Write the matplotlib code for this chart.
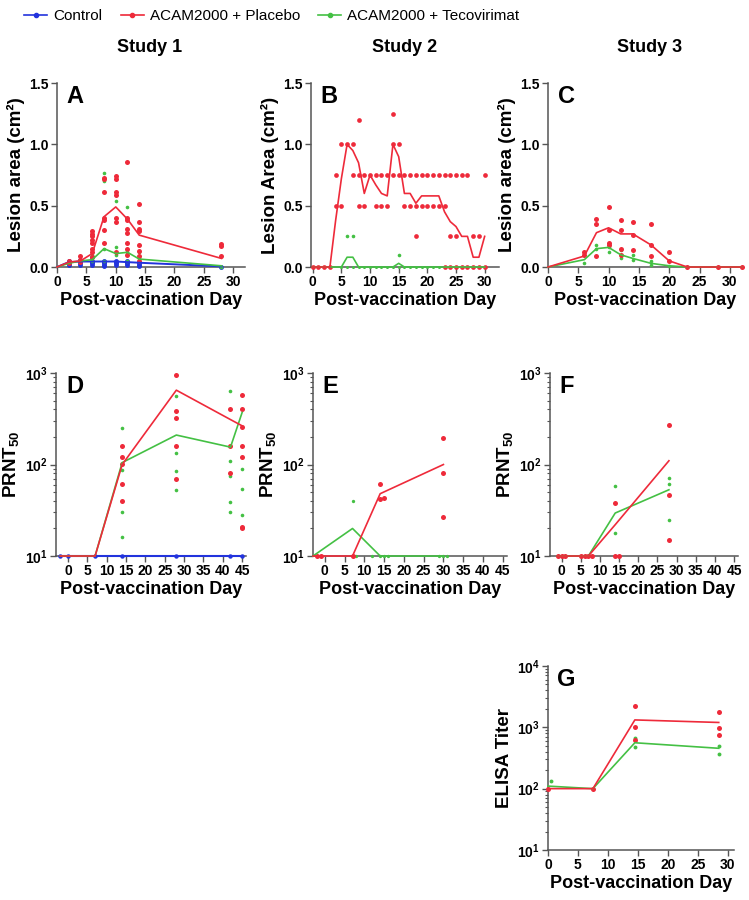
import matplotlib.pyplot as plt
from matplotlib.lines import Line2D
from matplotlib.ticker import LogLocator, NullFormatter, MultipleLocator

plt.rcParams['font.family'] = ['Liberation Sans', 'DejaVu Sans']
plt.rcParams['mathtext.fontset'] = 'custom'
plt.rcParams['mathtext.rm'] = 'Liberation Sans:bold'
plt.rcParams['mathtext.it'] = 'Liberation Sans:bold'
plt.rcParams['mathtext.bf'] = 'Liberation Sans:bold'

RED, GREEN, BLUE = '#EE2A3A', '#44C044', '#2233DD'

# ---- Study 1 lesion area (A)
a_days = [0, 2, 4, 6, 8, 10, 12, 14, 28]
a_placebo_mean = [0, 0.04, 0.05, 0.11, 0.41, 0.49, 0.39, 0.26, 0.07]
a_tecov_mean = [0, 0.03, 0.05, 0.06, 0.15, 0.11, 0.12, 0.065, 0.01]
a_control_mean = [0, 0.04, 0.045, 0.045, 0.045, 0.045, 0.04, 0.035, 0.005]
a_placebo_pts = {2: [0.05, 0.03], 4: [0.09, 0.06, 0.04],
                 6: [0.29, 0.27, 0.25, 0.22, 0.2, 0.15, 0.12, 0.08],
                 8: [0.73, 0.72, 0.61, 0.4, 0.38, 0.3, 0.2],
                 10: [0.74, 0.72, 0.61, 0.59, 0.4, 0.37, 0.12],
                 12: [0.86, 0.4, 0.38, 0.31, 0.28, 0.2, 0.15, 0.1],
                 14: [0.51, 0.37, 0.31, 0.29, 0.18, 0.13, 0.09, 0.05],
                 28: [0.19, 0.17, 0.09]}
a_tecov_pts = {4: [0.05], 6: [0.1, 0.05], 8: [0.77, 0.7, 0.15, 0.05],
               10: [0.54, 0.16, 0.1], 12: [0.49, 0.12, 0.05],
               14: [0.18, 0.12, 0.07], 28: [0.0]}
a_control_pts = {2: [0.05, 0.03, 0.02], 4: [0.06, 0.04, 0.03, 0.02],
                 6: [0.08, 0.05, 0.04, 0.03, 0.02], 8: [0.05, 0.04, 0.03, 0.02, 0.01],
                 10: [0.05, 0.04, 0.03, 0.02], 12: [0.05, 0.04, 0.03, 0.02],
                 14: [0.04, 0.03, 0.02, 0.01], 28: [0.0]}

# ---- Study 2 lesion area (B)
b_days = list(range(0, 31))
b_placebo_mean = [0, 0, 0, 0, 0.38, 0.72, 1.0, 0.95, 0.85, 0.6, 0.75, 0.67, 0.6,
                  0.58, 1.0, 0.9, 0.6, 0.6, 0.52, 0.58, 0.58, 0.58, 0.58, 0.45,
                  0.37, 0.33, 0.25, 0.25, 0.08, 0.08, 0.25]
b_tecov_mean = [0, 0, 0, 0, 0, 0, 0.08, 0.08, 0, 0, 0, 0, 0, 0, 0, 0.03, 0,
                0, 0, 0, 0, 0, 0, 0, 0, 0, 0, 0, 0, 0, 0]
b_placebo_pts = {0: [0], 1: [0], 2: [0], 3: [0], 4: [0.75, 0.5], 5: [1.0, 0.5],
                 6: [1.0], 7: [1.0, 0.75], 8: [1.2, 0.75, 0.5], 9: [0.75, 0.5],
                 10: [0.75], 11: [0.75, 0.5], 12: [0.75, 0.5], 13: [0.75, 0.5],
                 14: [1.25, 1.0, 0.75], 15: [1.0, 0.75], 16: [0.75, 0.5],
                 17: [0.75, 0.5], 18: [0.75, 0.5, 0.25], 19: [0.75, 0.5],
                 20: [0.75, 0.5], 21: [0.75, 0.5], 22: [0.75, 0.5],
                 23: [0.75, 0.5, 0], 24: [0.75, 0.25, 0], 25: [0.75, 0.25, 0],
                 26: [0.75, 0], 27: [0.75, 0], 28: [0.25, 0], 29: [0.25, 0],
                 30: [0.75, 0]}
b_tecov_pts = {d: [0] for d in range(5, 31)}
b_tecov_extra = {6: [0.25], 7: [0.25], 15: [0.1]}

# ---- Study 3 lesion area (C)
c_days = [0, 6, 8, 10, 12, 14, 17, 20, 23, 28, 32]
c_placebo_mean = [0, 0.09, 0.28, 0.32, 0.27, 0.27, 0.18, 0.05, 0, 0, 0]
c_tecov_mean = [0, 0.06, 0.15, 0.16, 0.1, 0.07, 0.03, 0.01, 0, 0, 0]
c_placebo_pts = {6: [0.12, 0.1], 8: [0.39, 0.35, 0.09], 10: [0.49, 0.3, 0.2, 0.18],
                 12: [0.38, 0.3, 0.15, 0.1], 14: [0.37, 0.26, 0.14],
                 17: [0.35, 0.18, 0.09], 20: [0.12, 0.05], 23: [0], 28: [0], 32: [0]}
c_tecov_pts = {6: [0.03], 8: [0.18, 0.15], 10: [0.16, 0.12], 12: [0.14, 0.07],
               14: [0.1, 0.06], 17: [0.05, 0.02], 20: [0.01]}

# ---- Study 1 PRNT50 (D)
d_days = [-2, 0, 7, 14, 28, 42, 45]
d_placebo_mean = [10, 10, 10, 100, 650, 310, 265]
d_tecov_mean = [10, 10, 10, 105, 210, 155, 370]
d_control_mean = [10, 10, 10, 10, 10, 10, 10]
d_placebo_pts = {14: [160, 120, 101, 62, 40], 28: [950, 380, 322, 160, 69],
                 42: [400, 160, 81], 45: [575, 400, 255, 160, 120, 21, 20]}
d_tecov_pts = {14: [250, 88, 30, 16], 28: [560, 135, 84, 53],
               42: [635, 110, 74, 39, 30], 45: [90, 54, 28]}
d_control_pts = {-2: [10], 0: [10], 7: [10], 14: [10], 28: [10], 42: [10], 45: [10]}

# ---- Study 2 PRNT50 (E)
e_days = [-3, 7, 14, 30]
e_placebo_mean = [10, 10, 48, 100]
e_tecov_mean = [10, 20, 10, 10]
e_placebo_pts = {-2: [10], -1: [10], 7: [10], 14: [62, 42], 15: [43],
                 30: [194, 81, 27]}
e_tecov_pts = {7: [40], 8: [10], 12: [10], 14: [10], 15: [10], 16: [10],
               29: [10], 30: [10], 31: [10]}

# ---- Study 3 PRNT50 (F)
f_days = [-1, 7, 14, 28]
f_placebo_mean = [10, 10, 22, 110]
f_tecov_mean = [10, 10, 29.5, 53]
f_placebo_pts = {-1: [10], 0: [10], 1: [10], 5: [10], 6: [10], 7: [10], 8: [10],
                 14: [38, 10], 15: [10], 28: [270, 46, 15]}
f_tecov_pts = {14: [58, 18], 28: [71, 62, 24.5], 8: [10]}

# ---- Study 3 ELISA (G)
g_days = [0, 7.5, 14.5, 28.5]
g_placebo_mean = [100, 100, 1320, 1200]
g_tecov_mean = [110, 100, 560, 455]
g_placebo_pts = {0: [100], 7.5: [100], 14.5: [2260, 1020, 610], 28.5: [1800, 990, 740]}
g_tecov_pts = {0.5: [135], 14.5: [660, 470], 28.5: [490, 364]}


def flat(pts):
    xs = [d for d, vals in pts.items() for v in vals]
    ys = [v for d, vals in pts.items() for v in vals]
    return xs, ys


def draw(ax, days, mean, pts, color, ms, lw=1.2):
    xs, ys = flat(pts)
    ax.plot(xs, ys, 'o', color=color, ms=ms, mec='none', zorder=3, clip_on=False)
    ax.plot(days, mean, '-', color=color, lw=lw, zorder=4, clip_on=False)


def style(ax, letter, ylabel, log=False):
    for s in ['top', 'right']:
        ax.spines[s].set_visible(False)
    for s in ['left', 'bottom']:
        ax.spines[s].set_color('#555555')
        ax.spines[s].set_linewidth(1.1)
    ax.tick_params(direction='out', length=4, width=1, color='#555555',
                   labelsize=10, pad=2)
    ax.tick_params(which='minor', length=2.5, width=0.8, color='#555555')
    for lab in ax.get_xticklabels() + ax.get_yticklabels():
        lab.set_fontweight('bold')
    ax.set_xlabel('Post-vaccination Day', fontsize=13, fontweight='bold', labelpad=2)
    ax.set_ylabel(ylabel, fontsize=13.5, fontweight='bold', labelpad=3)
    ax.text(0.05, 0.99, letter, transform=ax.transAxes, ha='left', va='top',
            fontsize=17, fontweight='bold')


fig = plt.figure(figsize=(7.49, 9), dpi=100)

lesion = 'Lesion area (cm²)'
prnt = r'PRNT$_{50}$'

# Row 1
axA = fig.add_axes([0.0761, 0.7033, 0.251, 0.2044])
draw(axA, a_days, a_control_mean, a_control_pts, BLUE, 3.5, 1.4)
draw(axA, a_days, a_tecov_mean, a_tecov_pts, GREEN, 2.6)
draw(axA, a_days, a_placebo_mean, a_placebo_pts, RED, 3.6)
axA.set_xlim(0, 32)

axB = fig.add_axes([0.4152, 0.7033, 0.251, 0.2044])
draw(axB, b_days, b_tecov_mean, b_tecov_pts, GREEN, 2.2)
xs, ys = flat(b_tecov_extra)
axB.plot(xs, ys, 'o', color=GREEN, ms=2.6, mec='none', zorder=3)
draw(axB, b_days, b_placebo_mean, b_placebo_pts, RED, 3.4)
axB.set_xlim(-0.3, 32.5)

axC = fig.add_axes([0.7316, 0.7033, 0.259, 0.2044])
axC.plot(c_days, [0] * len(c_days), '-', color='#9999BB', lw=1, zorder=2)
draw(axC, c_days, c_tecov_mean, c_tecov_pts, GREEN, 2.6)
draw(axC, c_days, c_placebo_mean, c_placebo_pts, RED, 3.6)
axC.set_xlim(0, 32)

for ax, letter, lab in [(axA, 'A', lesion), (axB, 'B', 'Lesion Area (cm²)'),
                        (axC, 'C', lesion)]:
    ax.set_ylim(0, 1.5)
    ax.yaxis.set_major_locator(MultipleLocator(0.5))
    ax.yaxis.set_major_formatter(plt.FormatStrFormatter('%.1f'))
    ax.xaxis.set_major_locator(MultipleLocator(5))
    style(ax, letter, lab)

# Row 2
axD = fig.add_axes([0.0753, 0.3822, 0.2531, 0.2033])
draw(axD, d_days, d_control_mean, d_control_pts, BLUE, 3.2, 1.5)
draw(axD, d_days, d_tecov_mean, d_tecov_pts, GREEN, 2.6)
draw(axD, d_days, d_placebo_mean, d_placebo_pts, RED, 3.6)

axE = fig.add_axes([0.4179, 0.3822, 0.2585, 0.2033])
draw(axE, e_days, e_tecov_mean, e_tecov_pts, GREEN, 2.4)
draw(axE, e_days, e_placebo_mean, e_placebo_pts, RED, 3.6)

axF = fig.add_axes([0.7343, 0.3822, 0.251, 0.2033])
draw(axF, f_days, f_tecov_mean, f_tecov_pts, GREEN, 2.6)
draw(axF, f_days, f_placebo_mean, f_placebo_pts, RED, 3.6)

for ax, letter in [(axD, 'D'), (axE, 'E'), (axF, 'F')]:
    ax.set_yscale('log')
    ax.set_ylim(10, 1000)
    ax.set_xlim(-3, 46)
    ax.xaxis.set_major_locator(MultipleLocator(5))
    ax.yaxis.set_major_locator(LogLocator(base=10, numticks=5))
    ax.yaxis.set_minor_locator(LogLocator(base=10, subs=range(2, 10), numticks=12))
    ax.yaxis.set_minor_formatter(NullFormatter())
    style(ax, letter, prnt)

# Row 3
axG = fig.add_axes([0.7316, 0.0556, 0.248, 0.2044])
draw(axG, g_days, g_tecov_mean, g_tecov_pts, GREEN, 2.8)
draw(axG, g_days, g_placebo_mean, g_placebo_pts, RED, 3.6)
axG.set_yscale('log')
axG.set_ylim(10, 10000)
axG.set_xlim(0, 31)
axG.xaxis.set_major_locator(MultipleLocator(5))
axG.yaxis.set_major_locator(LogLocator(base=10, numticks=6))
axG.yaxis.set_minor_locator(LogLocator(base=10, subs=range(2, 10), numticks=12))
axG.yaxis.set_minor_formatter(NullFormatter())
style(axG, 'G', 'ELISA Titer')

# Column titles
for x, t in [(150, 'Study 1'), (405, 'Study 2'), (650, 'Study 3')]:
    fig.text(x / 749, 1 - 48 / 900, t, ha='center', va='center',
             fontsize=13, fontweight='bold')

# Legend
handles = [Line2D([], [], color=c, marker='o', ms=3, lw=1.2)
           for c in (BLUE, RED, GREEN)]
fig.legend(handles, ['Control', 'ACAM2000 + Placebo', 'ACAM2000 + Tecovirimat'],
           loc='center', bbox_to_anchor=(272 / 749, 1 - 16 / 900), ncol=3,
           frameon=False, fontsize=11, handlelength=1.5, columnspacing=1.2,
           handletextpad=0.4)

fig.savefig('out.png', dpi=100, facecolor='white')
